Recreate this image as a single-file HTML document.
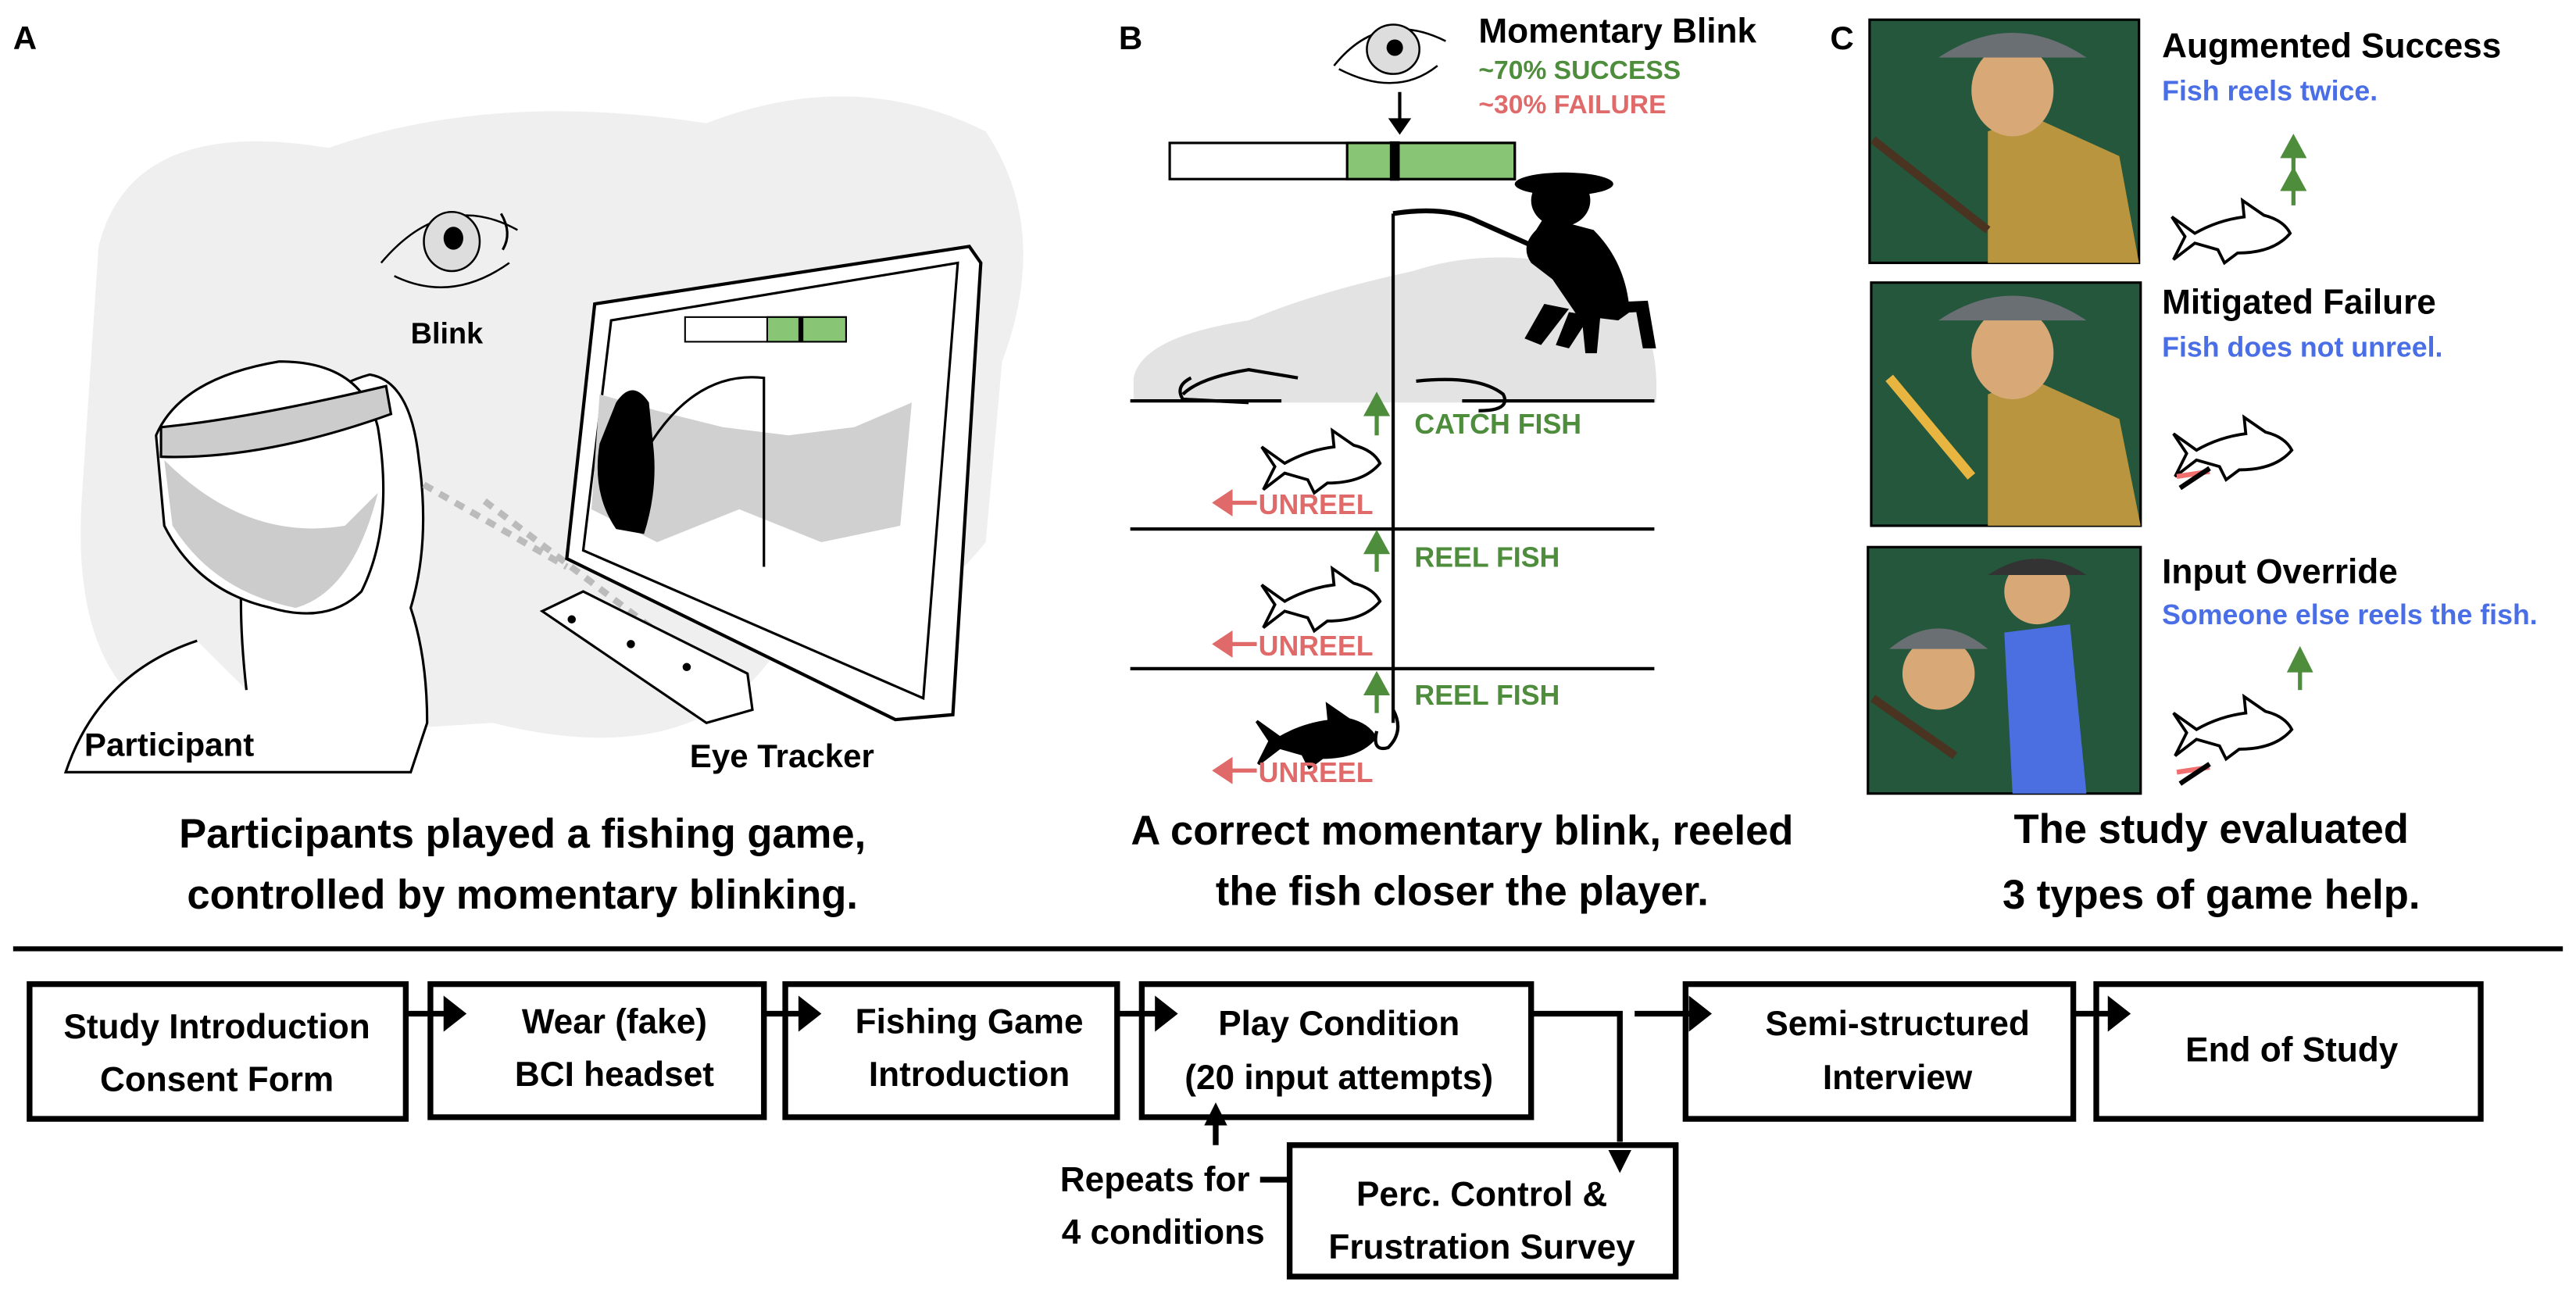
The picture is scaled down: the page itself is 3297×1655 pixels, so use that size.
<!DOCTYPE html>
<html><head><meta charset="utf-8"><style>
html,body{margin:0;padding:0;background:#fff}
svg{display:block}
text{font-family:"Liberation Sans","DejaVu Sans",sans-serif;font-weight:bold}
</style></head><body>
<svg width="3297" height="1655" viewBox="0 0 1568 787" preserveAspectRatio="none" xmlns="http://www.w3.org/2000/svg">
<defs>
<path id="fish" d="M0,6 L14,16 Q28,8 44,6 L43,-4 L56,5 Q68,8 72,16 Q62,28 40,28 L32,34 L28,26 L14,22 L1,32 L8,18 Z"/>
</defs>
<text x="8" y="30" font-size="20">A</text>
<text x="681" y="30" font-size="20">B</text>
<text x="1114" y="30" font-size="20">C</text>

<!-- Panel A -->
<path d="M60,150 Q80,70 200,90 Q300,55 430,75 Q520,40 600,80 Q640,140 610,220 L600,330 Q560,380 520,370 L470,400 Q420,470 300,440 L140,450 Q40,440 50,300 Z" fill="#efefef"/>
<path d="M232,160 Q270,115 315,140" fill="none" stroke="#000" stroke-width="1.2"/>
<path d="M240,168 Q275,185 310,160" fill="none" stroke="#000" stroke-width="1.2"/>
<ellipse cx="275" cy="147" rx="17" ry="18" fill="#ddd" stroke="#000" stroke-width="1.2"/>
<ellipse cx="276" cy="145" rx="6" ry="7" fill="#000"/>
<path d="M305,130 Q312,142 306,152" fill="none" stroke="#000" stroke-width="1.5"/>
<text x="272" y="209" font-size="18" text-anchor="middle">Blink</text>
<path d="M150,420 Q140,330 160,300 Q180,240 225,228 Q250,232 255,280 Q262,330 250,370 Q260,400 260,440 L250,470 L40,470 Q60,410 120,390" fill="#fff" stroke="#000" stroke-width="1.5"/>
<path d="M95,265 Q110,230 170,220 Q220,220 230,260 Q240,320 220,360 Q200,380 165,370 Q120,360 100,320 Z" fill="#fff" stroke="#000" stroke-width="1.5"/>
<path d="M98,260 Q150,255 235,235 L238,252 Q160,280 98,278 Z" fill="#ccc" stroke="#000" stroke-width="1.5"/>
<path d="M100,280 Q150,330 210,320 L230,300 Q215,360 180,370 Q130,360 105,320 Z" fill="#ccc"/>
<text x="103" y="460" font-size="20" text-anchor="middle">Participant</text>
<path d="M258,295 L345,345 M295,305 L420,400" stroke="#bbb" stroke-width="4" stroke-dasharray="6,5" fill="none"/>
<path d="M362,185 L590,150 L597,160 L580,435 L545,438 L345,340 Z" fill="#fff" stroke="#000" stroke-width="2"/>
<path d="M372,195 L583,160 L562,425 L355,335 Z" fill="#fff" stroke="#000" stroke-width="1.5"/>
<path d="M365,240 L400,250 L440,260 L480,265 L520,260 L555,245 L548,320 L500,330 L450,310 L400,330 L360,310 Z" fill="#d0d0d0"/>
<rect x="417" y="193" width="98" height="15" fill="#fff" stroke="#000" stroke-width="1"/>
<rect x="467" y="193" width="48" height="15" fill="#88c575" stroke="#000" stroke-width="1"/>
<rect x="486" y="193" width="3" height="15" fill="#000"/>
<path d="M375,245 Q385,230 395,245 L398,275 Q400,300 392,325 L375,322 Q360,300 365,270 Z" fill="#000"/>
<path d="M390,280 Q420,225 465,230 L465,345" fill="none" stroke="#000" stroke-width="1.5"/>
<path d="M330,372 L355,360 L455,410 L458,432 L430,440 Z" fill="#fff" stroke="#000" stroke-width="1.5"/>
<circle cx="348" cy="377" r="2.5" fill="#000"/><circle cx="384" cy="392" r="2.5" fill="#000"/><circle cx="418" cy="406" r="2.5" fill="#000"/>
<text x="476" y="467" font-size="20" text-anchor="middle">Eye Tracker</text>
<text x="318" y="516" font-size="25" text-anchor="middle">Participants played a fishing game,</text>
<text x="318" y="553" font-size="25" text-anchor="middle">controlled by momentary blinking.</text>

<!-- Panel B -->
<path d="M812,40 Q840,5 880,25 M815,42 Q850,60 875,40" fill="none" stroke="#000" stroke-width="1.2"/>
<ellipse cx="848" cy="30" rx="16" ry="15" fill="#ddd" stroke="#000" stroke-width="1.2"/>
<ellipse cx="849" cy="29" rx="5" ry="5" fill="#000"/>
<text x="900" y="26" font-size="21">Momentary Blink</text>
<text x="900" y="48" font-size="16" fill="#4e8d3c">~70% SUCCESS</text>
<text x="900" y="69" font-size="16" fill="#e06a6a">~30% FAILURE</text>
<path d="M852,56 L852,74" stroke="#000" stroke-width="2"/><path d="M845,72 L859,72 L852,82 Z" fill="#000"/>
<rect x="712" y="87" width="210" height="22" fill="#fff" stroke="#000" stroke-width="1.5"/>
<rect x="820" y="87" width="102" height="22" fill="#88c575" stroke="#000" stroke-width="1.5"/>
<rect x="846" y="86" width="6" height="24" fill="#000"/>
<path d="M690,230 Q695,205 760,195 Q800,178 860,165 Q905,150 960,162 Q1012,180 1008,245 L690,245 Z" fill="#e3e3e3"/>
<!-- fisher -->
<g fill="#000">
<ellipse cx="950" cy="122" rx="18" ry="16"/>
<ellipse cx="952" cy="112" rx="30" ry="7"/>
<path d="M940,132 L970,140 Q990,160 992,190 L985,195 L960,192 L945,170 L932,160 Q925,150 935,140 Z"/>
<path d="M962,185 L975,183 L972,215 L965,215 Z"/>
<path d="M940,185 L955,188 L938,210 L928,206 Z"/>
<path d="M955,190 L968,192 L955,212 L947,210 Z"/>
<path d="M960,185 L1003,183 L1008,212 L1000,212 L996,190 L960,192 Z"/>
</g>
<path d="M848,130 Q880,125 900,135 L945,155" fill="none" stroke="#000" stroke-width="3"/>
<path d="M848,130 L848,440" stroke="#000" stroke-width="2"/>
<path d="M720,240 Q730,230 760,225 L790,230 M760,245 L720,243 Q715,235 725,230" fill="none" stroke="#000" stroke-width="2"/>
<path d="M862,232 Q900,228 915,240 Q920,250 900,250" fill="none" stroke="#000" stroke-width="2"/>
<path d="M688,244 L780,244 M890,244 L1007,244 M688,322 L1007,322 M688,407 L1007,407" stroke="#000" stroke-width="2"/>
<use href="#fish" x="768" y="266" fill="#fff" stroke="#000" stroke-width="1.8"/>
<use href="#fish" x="768" y="350" fill="#fff" stroke="#000" stroke-width="1.8"/>
<use href="#fish" x="765" y="433" fill="#000" stroke="#000" stroke-width="1.8"/>
<path d="M848,432 Q855,445 845,455 Q835,458 838,445" fill="none" stroke="#000" stroke-width="2"/>
<g stroke="#4e8d3c" stroke-width="2.5" fill="#4e8d3c">
<path d="M838,265 L838,250"/><path d="M832,252 L844,252 L838,241 Z"/>
<path d="M838,348 L838,334"/><path d="M832,336 L844,336 L838,325 Z"/>
<path d="M838,434 L838,420"/><path d="M832,422 L844,422 L838,411 Z"/>
</g>
<text x="861" y="264" font-size="17" fill="#4e8d3c">CATCH FISH</text>
<text x="861" y="345" font-size="17" fill="#4e8d3c">REEL FISH</text>
<text x="861" y="429" font-size="17" fill="#4e8d3c">REEL FISH</text>
<g fill="#e06a6a" stroke="#e06a6a" stroke-width="2.5">
<path d="M746,306 L765,306"/><path d="M740,306 L749,300 L749,312 Z"/>
<path d="M746,392 L765,392"/><path d="M740,392 L749,386 L749,398 Z"/>
<path d="M746,469 L765,469"/><path d="M740,469 L749,463 L749,475 Z"/>
</g>
<text x="766" y="313" font-size="17" fill="#e06a6a">UNREEL</text>
<text x="766" y="399" font-size="17" fill="#e06a6a">UNREEL</text>
<text x="766" y="476" font-size="17" fill="#e06a6a">UNREEL</text>
<text x="890" y="514" font-size="25" text-anchor="middle">A correct momentary blink, reeled</text>
<text x="890" y="551" font-size="25" text-anchor="middle">the fish closer the player.</text>

<!-- Panel C -->
<g stroke="#000" stroke-width="1.5">
<rect x="1138" y="12" width="164" height="148" fill="#24573c"/>
<rect x="1139" y="172" width="164" height="148" fill="#24573c"/>
<rect x="1137" y="333" width="166" height="150" fill="#24573c"/>
</g>
<path d="M1210,80 L1235,70 L1290,95 L1302,160 L1210,160 Z" fill="#b8953e"/>
<ellipse cx="1225" cy="55" rx="25" ry="28" fill="#d9a877"/>
<path d="M1180,35 Q1225,5 1270,35 Z" fill="#6a6f74"/>
<path d="M1140,85 L1210,140" stroke="#4a3320" stroke-width="5"/>
<path d="M1210,240 L1235,230 L1290,255 L1303,320 L1210,320 Z" fill="#b8953e"/>
<ellipse cx="1225" cy="215" rx="25" ry="28" fill="#d9a877"/>
<path d="M1180,195 Q1225,165 1270,195 Z" fill="#6a6f74"/>
<path d="M1150,230 L1200,290" stroke="#e8b640" stroke-width="6"/>
<path d="M1220,385 L1260,380 L1270,483 L1225,483 Z" fill="#4b6fe0"/>
<ellipse cx="1240" cy="360" rx="20" ry="20" fill="#d9a877"/>
<path d="M1210,350 Q1240,330 1270,350 Z" fill="#333"/>
<ellipse cx="1180" cy="410" rx="22" ry="22" fill="#d9a877"/>
<path d="M1150,395 Q1180,370 1210,395 Z" fill="#6a6f74"/>
<path d="M1140,425 L1190,460" stroke="#4a3320" stroke-width="5"/>
<text x="1316" y="35" font-size="21">Augmented Success</text>
<text x="1316" y="61" font-size="17" fill="#4a6ee6">Fish reels twice.</text>
<text x="1316" y="191" font-size="21">Mitigated Failure</text>
<text x="1316" y="217" font-size="17" fill="#4a6ee6">Fish does not unreel.</text>
<text x="1316" y="355" font-size="21">Input Override</text>
<text x="1316" y="380" font-size="17" fill="#4a6ee6">Someone else reels the fish.</text>
<use href="#fish" x="1322" y="126" fill="#fff" stroke="#000" stroke-width="1.8"/>
<use href="#fish" x="1323" y="258" fill="#fff" stroke="#000" stroke-width="1.8"/>
<use href="#fish" x="1323" y="428" fill="#fff" stroke="#000" stroke-width="1.8"/>
<g stroke="#4e8d3c" stroke-width="2.5" fill="#4e8d3c">
<path d="M1396,105 L1396,92"/><path d="M1390,95 L1402,95 L1396,84 Z"/>
<path d="M1396,125 L1396,112"/><path d="M1390,115 L1402,115 L1396,104 Z"/>
<path d="M1400,420 L1400,405"/><path d="M1394,408 L1406,408 L1400,396 Z"/>
</g>
<g stroke-width="3">
<path d="M1325,290 L1345,287" stroke="#f07070"/><path d="M1327,297 L1345,285" stroke="#000"/>
<path d="M1325,470 L1345,467" stroke="#f07070"/><path d="M1327,477 L1345,465" stroke="#000"/>
</g>
<text x="1346" y="513" font-size="25" text-anchor="middle">The study evaluated</text>
<text x="1346" y="553" font-size="25" text-anchor="middle">3 types of game help.</text>

<rect x="8" y="576" width="1552" height="3" fill="#000"/>

<g fill="#fff" stroke="#000" stroke-width="3.5">
<rect x="18" y="599" width="229" height="82"/>
<rect x="262" y="599" width="203" height="81"/>
<rect x="478" y="599" width="202" height="81"/>
<rect x="695" y="599" width="237" height="81"/>
<rect x="1026" y="599" width="236" height="82"/>
<rect x="1276" y="599" width="234" height="82"/>
<rect x="785" y="697" width="235" height="80"/>
</g>
<g stroke="#000" stroke-width="3.5" fill="none">
<path d="M247,617 L272,617"/><path d="M465,617 L488,617"/><path d="M680,617 L705,617"/>
<path d="M932,617 L986,617 L986,695"/><path d="M995,617 L1030,617"/><path d="M1262,617 L1285,617"/>
<path d="M740,697 L740,683"/><path d="M767,718 L785,718"/>
</g>
<g fill="#000">
<path d="M270,606 L284,617 L270,628 Z"/><path d="M486,606 L500,617 L486,628 Z"/><path d="M703,606 L717,617 L703,628 Z"/>
<path d="M1028,606 L1042,617 L1028,628 Z"/><path d="M1283,606 L1297,617 L1283,628 Z"/>
<path d="M979,700 L993,700 L986,714 Z"/><path d="M733,685 L747,685 L740,671 Z"/>
</g>
<g font-size="21" text-anchor="middle">
<text x="132" y="632">Study Introduction</text><text x="132" y="664">Consent Form</text>
<text x="374" y="629">Wear (fake)</text><text x="374" y="661">BCI headset</text>
<text x="590" y="629">Fishing Game</text><text x="590" y="661">Introduction</text>
<text x="815" y="630">Play Condition</text><text x="815" y="663">(20 input attempts)</text>
<text x="1155" y="630">Semi-structured</text><text x="1155" y="663">Interview</text>
<text x="1395" y="646">End of Study</text>
<text x="902" y="734">Perc. Control &amp;</text><text x="902" y="766">Frustration Survey</text>
<text x="703" y="725">Repeats for</text><text x="708" y="757">4 conditions</text>
</g>
</svg>
</body></html>
